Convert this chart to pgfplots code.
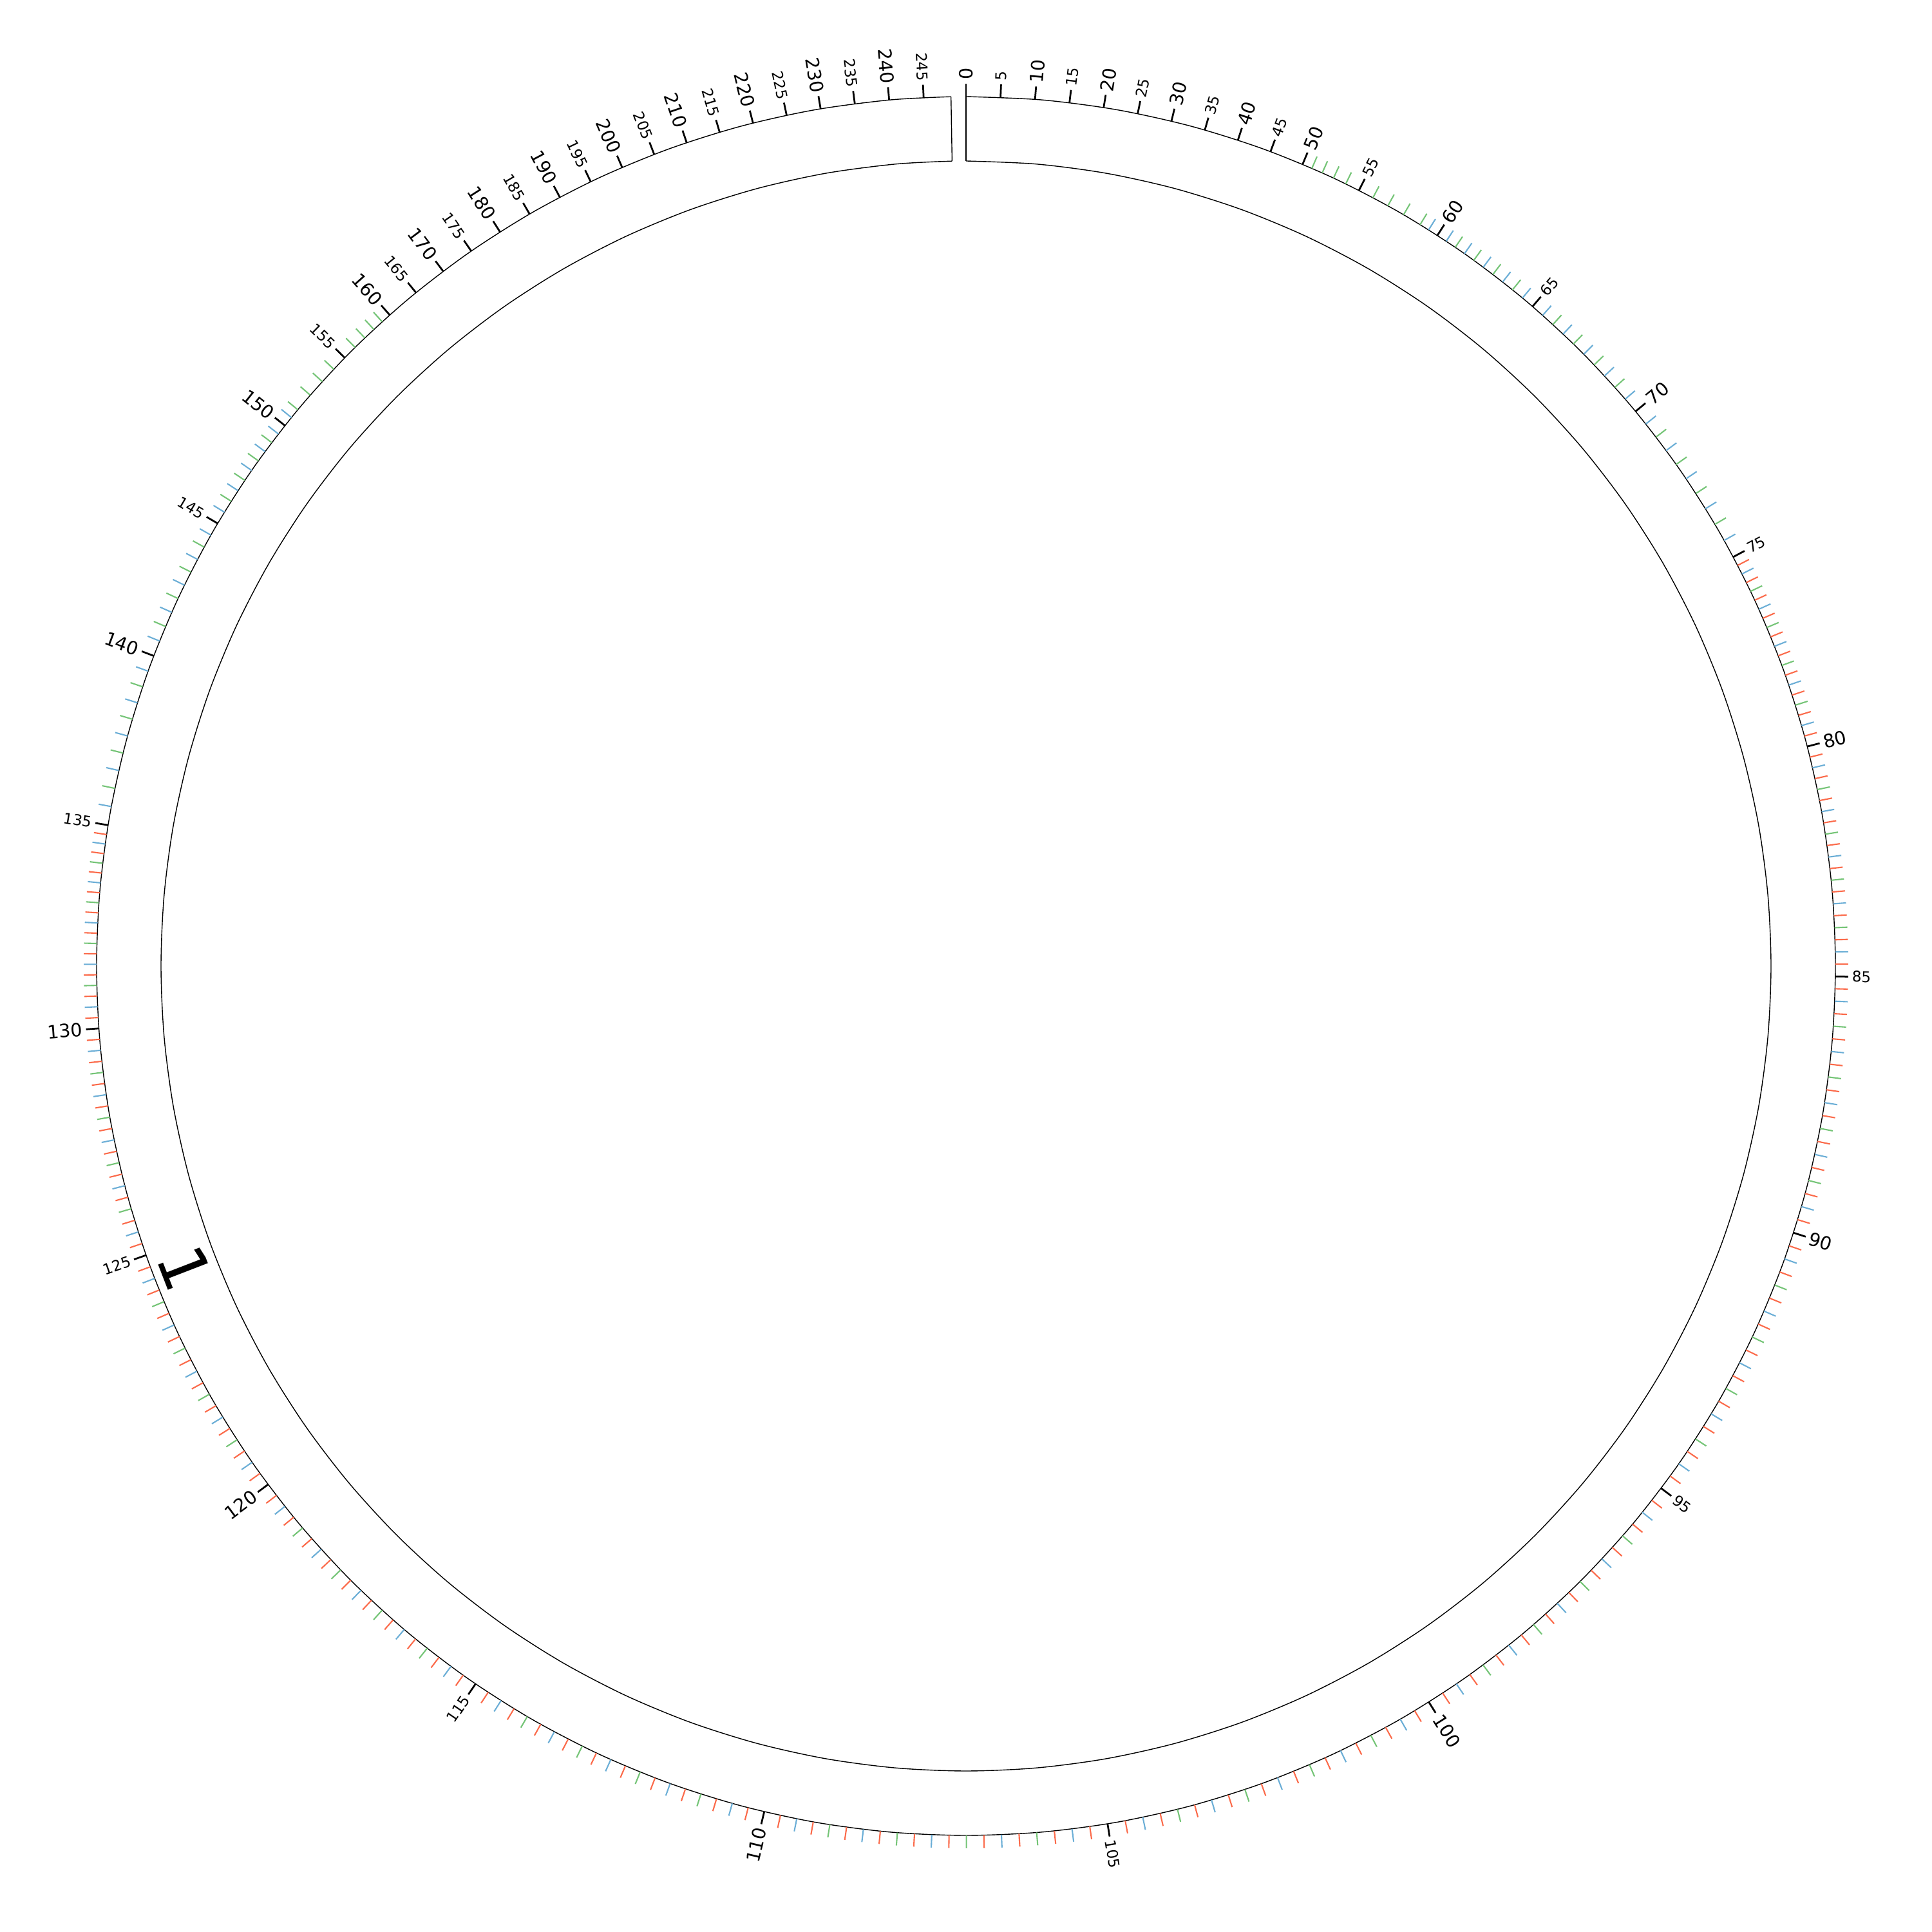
\documentclass[border=0pt]{standalone}
\usepackage{pgfplots}
\pgfplotsset{compat=1.18}
\usepackage{pgfplotstable}
\usepgfplotslibrary{polar}
\usepackage{fontspec}
\setmainfont{DejaVu Sans}
\definecolor{cgreen}{HTML}{74C476}
\definecolor{cblue}{HTML}{6BAED6}
\definecolor{cred}{HTML}{FB6A4A}

% angular position (math degrees) of a genomic position (Mb) on the zoomed ideogram scale
\pgfmathdeclarefunction{gang}{1}{%
  \pgfmathparse{(#1<50) ? (90-0.4556*#1) : ((#1>160) ? (90-318.48-0.4556*(#1-160)) : (-80.63-4.745*(#1-105)+0.037395*(#1-105)*abs(#1-105)))}}

\pgfplotstableread[row sep=\\]{p\\
51\\52\\53\\54\\56\\57\\58\\59\\
61\\62\\63\\64\\66\\67\\68\\69\\
71\\72\\73\\74\\76\\77\\78\\79\\
81\\82\\83\\84\\86\\87\\88\\89\\
91\\92\\93\\94\\96\\97\\98\\99\\
101\\102\\103\\104\\106\\107\\108\\109\\
111\\112\\113\\114\\116\\117\\118\\119\\
121\\122\\123\\124\\126\\127\\128\\129\\
131\\132\\133\\134\\136\\137\\138\\139\\
141\\142\\143\\144\\146\\147\\148\\149\\
151\\152\\153\\154\\156\\157\\158\\159\\
}\greenT

\pgfplotstableread[row sep=\\]{p\\
59.5\\60.5\\61.5\\62.5\\63.5\\64.5\\65.5\\66.5\\67.5\\68.5\\69.5\\
70.5\\71.5\\72.5\\73.5\\74.5\\75.5\\76.5\\77.5\\78.5\\79.5\\
80.5\\81.5\\82.5\\83.5\\84.5\\85.5\\86.5\\87.5\\88.5\\89.5\\
90.5\\91.5\\92.5\\93.5\\94.5\\95.5\\96.5\\97.5\\98.5\\99.5\\
100.5\\101.5\\102.5\\103.5\\104.5\\105.5\\106.5\\107.5\\108.5\\109.5\\
110.5\\111.5\\112.5\\113.5\\114.5\\115.5\\116.5\\117.5\\118.5\\119.5\\
120.5\\121.5\\122.5\\123.5\\124.5\\125.5\\126.5\\127.5\\128.5\\129.5\\
130.5\\131.5\\132.5\\133.5\\134.5\\135.5\\136.5\\137.5\\138.5\\139.5\\
140.5\\141.5\\142.5\\143.5\\144.5\\145.5\\146.5\\147.5\\148.5\\149.5\\
150.5\\
}\blueT

\pgfplotstableread[row sep=\\]{p\\
75.25\\75.75\\76.25\\76.75\\77.25\\77.75\\78.25\\78.75\\79.25\\79.75\\
80.25\\80.75\\81.25\\81.75\\82.25\\82.75\\83.25\\83.75\\84.25\\84.75\\
85.25\\85.75\\86.25\\86.75\\87.25\\87.75\\88.25\\88.75\\89.25\\89.75\\
90.25\\90.75\\91.25\\91.75\\92.25\\92.75\\93.25\\93.75\\94.25\\94.75\\
95.25\\95.75\\96.25\\96.75\\97.25\\97.75\\98.25\\98.75\\99.25\\99.75\\
100.25\\100.75\\101.25\\101.75\\102.25\\102.75\\103.25\\103.75\\104.25\\104.75\\
105.25\\105.75\\106.25\\106.75\\107.25\\107.75\\108.25\\108.75\\109.25\\109.75\\
110.25\\110.75\\111.25\\111.75\\112.25\\112.75\\113.25\\113.75\\114.25\\114.75\\
115.25\\115.75\\116.25\\116.75\\117.25\\117.75\\118.25\\118.75\\119.25\\119.75\\
120.25\\120.75\\121.25\\121.75\\122.25\\122.75\\123.25\\123.75\\124.25\\124.75\\
125.25\\125.75\\126.25\\126.75\\127.25\\127.75\\128.25\\128.75\\129.25\\129.75\\
130.25\\130.75\\131.25\\131.75\\132.25\\132.75\\133.25\\133.75\\134.25\\134.75\\
}\redT

\pgfplotstableread[row sep=\\]{p\\
0\\5\\10\\15\\20\\25\\30\\35\\40\\45\\50\\55\\60\\65\\70\\75\\80\\85\\90\\95\\
100\\105\\110\\115\\120\\125\\130\\135\\140\\145\\150\\155\\160\\165\\170\\175\\
180\\185\\190\\195\\200\\205\\210\\215\\220\\225\\230\\235\\240\\245\\
}\blackT

\pgfplotstableread[row sep=\\]{p\\0\\10\\20\\30\\40\\50\\60\\70\\80\\90\\100\\}\rbigT
\pgfplotstableread[row sep=\\]{p\\5\\15\\25\\35\\45\\55\\65\\75\\85\\95\\105\\}\rsmallT
\pgfplotstableread[row sep=\\]{p\\110\\120\\130\\140\\150\\160\\170\\180\\190\\200\\210\\220\\230\\240\\}\lbigT
\pgfplotstableread[row sep=\\]{p\\115\\125\\135\\145\\155\\165\\175\\185\\195\\205\\215\\225\\235\\245\\}\lsmallT
\pgfplotstableread[row sep=\\]{p\\124.48\\}\chromT

\pgfplotsset{
  tickplot/.style 2 args={draw=none, mark=none, nodes near coords={},
    visualization depends on={gang(\thisrow{p}) \as \ang},
    every node near coord/.style={anchor=west, rotate=\ang, inner sep=0pt, outer sep=0pt,
      minimum width=4pt, minimum height=#1, fill=#2}},
  labR/.style={draw=none, mark=none, point meta=explicit symbolic, nodes near coords,
    visualization depends on={gang(\thisrow{p}) \as \ang},
    every node near coord/.style={anchor=west, rotate=\ang, inner sep=0pt, outer sep=0pt,
      text=black, font=\fontsize{#1}{#1}\selectfont}},
  labL/.style={draw=none, mark=none, point meta=explicit symbolic, nodes near coords,
    visualization depends on={gang(\thisrow{p}) \as \ang},
    every node near coord/.style={anchor=east, rotate=\ang+180, inner sep=0pt, outer sep=0pt,
      text=black, font=\fontsize{#1}{#1}\selectfont}},
  /pgfplots/table/x index=0,
  /pgfplots/table/y index=0,
}

\begin{document}
\begin{tikzpicture}
\useasboundingbox (0,0) rectangle (600pt,600pt);
\begin{axis}[at={(0,0)}, anchor=south west, scale only axis,
  width=600pt, height=600pt,
  xmin=-1500, xmax=1500, ymin=-1500, ymax=1500,
  hide axis, clip=false]

% ideogram ring
\addplot[black, line width=0.28pt, smooth, data cs=polar] coordinates {
(90,1350) (85,1350) (80,1350) (75,1350) (70,1350) (65,1350) (60,1350) (55,1350) (50,1350) (45,1350) (40,1350) (35,1350) (30,1350) (25,1350) (20,1350) (15,1350) (10,1350) (5,1350) (0,1350)
(-5,1350) (-10,1350) (-15,1350) (-20,1350) (-25,1350) (-30,1350) (-35,1350) (-40,1350) (-45,1350) (-50,1350) (-55,1350) (-60,1350) (-65,1350) (-70,1350) (-75,1350) (-80,1350) (-85,1350) (-90,1350)
(-95,1350) (-100,1350) (-105,1350) (-110,1350) (-115,1350) (-120,1350) (-125,1350) (-130,1350) (-135,1350) (-140,1350) (-145,1350) (-150,1350) (-155,1350) (-160,1350) (-165,1350) (-170,1350) (-175,1350) (-180,1350)
(-185,1350) (-190,1350) (-195,1350) (-200,1350) (-205,1350) (-210,1350) (-215,1350) (-220,1350) (-225,1350) (-230,1350) (-235,1350) (-240,1350) (-245,1350) (-250,1350) (-255,1350) (-260,1350) (-265,1350) (-269.01,1350)};
\addplot[black, line width=0.28pt, smooth, data cs=polar] coordinates {
(90,1250) (85,1250) (80,1250) (75,1250) (70,1250) (65,1250) (60,1250) (55,1250) (50,1250) (45,1250) (40,1250) (35,1250) (30,1250) (25,1250) (20,1250) (15,1250) (10,1250) (5,1250) (0,1250)
(-5,1250) (-10,1250) (-15,1250) (-20,1250) (-25,1250) (-30,1250) (-35,1250) (-40,1250) (-45,1250) (-50,1250) (-55,1250) (-60,1250) (-65,1250) (-70,1250) (-75,1250) (-80,1250) (-85,1250) (-90,1250)
(-95,1250) (-100,1250) (-105,1250) (-110,1250) (-115,1250) (-120,1250) (-125,1250) (-130,1250) (-135,1250) (-140,1250) (-145,1250) (-150,1250) (-155,1250) (-160,1250) (-165,1250) (-170,1250) (-175,1250) (-180,1250)
(-185,1250) (-190,1250) (-195,1250) (-200,1250) (-205,1250) (-210,1250) (-215,1250) (-220,1250) (-225,1250) (-230,1250) (-235,1250) (-240,1250) (-245,1250) (-250,1250) (-255,1250) (-260,1250) (-265,1250) (-269.01,1250)};
\addplot[black, line width=0.28pt, data cs=polar] coordinates {(90,1250) (90,1350)};
\addplot[black, line width=0.28pt, data cs=polar] coordinates {(-269.01,1250) (-269.01,1350)};

% coloured sub-ticks
\addplot[tickplot={0.42pt}{cgreen}] table[x expr={1350*cos(gang(\thisrow{p}))}, y expr={1350*sin(gang(\thisrow{p}))}] {\greenT};
\addplot[tickplot={0.42pt}{cblue}] table[x expr={1350*cos(gang(\thisrow{p}))}, y expr={1350*sin(gang(\thisrow{p}))}] {\blueT};
\addplot[tickplot={0.42pt}{cred}] table[x expr={1350*cos(gang(\thisrow{p}))}, y expr={1350*sin(gang(\thisrow{p}))}] {\redT};
% major ticks
\addplot[tickplot={0.55pt}{black}] table[x expr={1350*cos(gang(\thisrow{p}))}, y expr={1350*sin(gang(\thisrow{p}))}] {\blackT};

% tick labels
\addplot[labR=5.7] table[meta=p, x expr={1376*cos(gang(\thisrow{p}))}, y expr={1376*sin(gang(\thisrow{p}))}] {\rbigT};
\addplot[labR=4.6] table[meta=p, x expr={1376*cos(gang(\thisrow{p}))}, y expr={1376*sin(gang(\thisrow{p}))}] {\rsmallT};
\addplot[labL=5.7] table[meta=p, x expr={1376*cos(gang(\thisrow{p}))}, y expr={1376*sin(gang(\thisrow{p}))}] {\lbigT};
\addplot[labL=4.6] table[meta=p, x expr={1376*cos(gang(\thisrow{p}))}, y expr={1376*sin(gang(\thisrow{p}))}] {\lsmallT};

% chromosome label
\addplot[draw=none, mark=none, nodes near coords={1},
  visualization depends on={gang(\thisrow{p}) \as \ang},
  every node near coord/.style={anchor=center, rotate=\ang+90, inner sep=0pt, text=black,
    font=\fontsize{20}{24}\selectfont}]
  table[x expr={1300*cos(gang(\thisrow{p}))}, y expr={1300*sin(gang(\thisrow{p}))}] {\chromT};

\end{axis}
\end{tikzpicture}
\end{document}
